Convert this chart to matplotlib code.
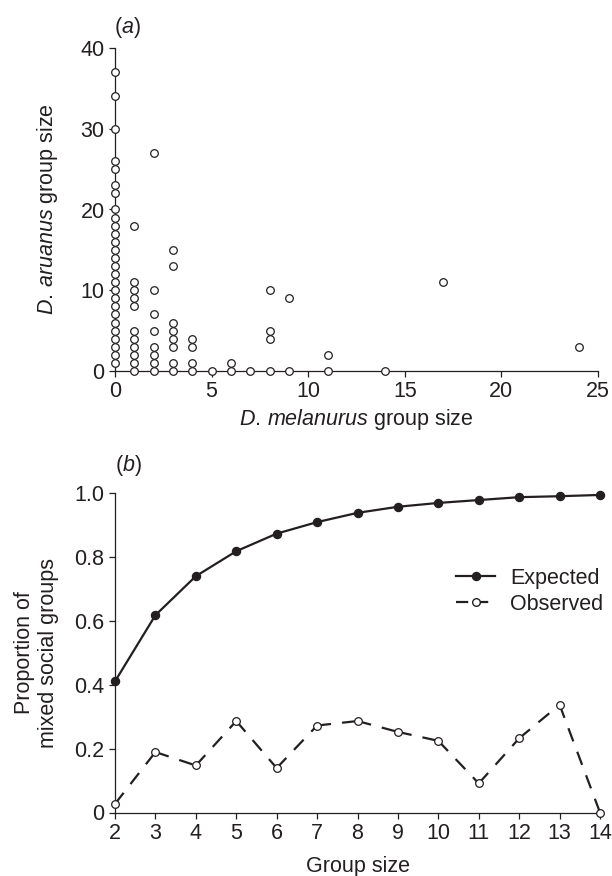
import numpy as np
import matplotlib.pyplot as plt
from matplotlib.lines import Line2D

plt.rcParams['font.family'] = ['Liberation Sans', 'DejaVu Sans']
plt.rcParams['mathtext.fontset'] = 'custom'
plt.rcParams['mathtext.rm'] = 'Liberation Sans'
plt.rcParams['mathtext.it'] = 'Liberation Sans:italic'

INK = '#231f20'
FS = 15.5
DASH = (0, (6.3, 5.0))

# (a) group composition: D. melanurus size -> list of D. aruanus sizes
mel_sizes = [0, 1, 2, 3, 4, 5, 6, 7, 8, 9, 11, 14, 17, 24]
aru_sizes = [
    list(range(1, 21)) + [22, 23, 25, 26, 30, 34, 37],
    [0, 1, 2, 3, 4, 5, 8, 9, 10, 11, 18],
    [0, 1, 2, 3, 5, 7, 10, 27],
    [0, 1, 3, 4, 5, 6, 13, 15],
    [0, 1, 3, 4],
    [0],
    [0, 1],
    [0],
    [0, 4, 5, 10],
    [0, 9],
    [0, 2],
    [0],
    [11],
    [3],
]

# (b) proportion of mixed social groups
group_size = [2, 3, 4, 5, 6, 7, 8, 9, 10, 11, 12, 13, 14]
expected = [0.41, 0.617, 0.739, 0.817, 0.872, 0.908, 0.937, 0.956, 0.968, 0.977, 0.986, 0.989, 0.993]
observed = [0.027, 0.189, 0.147, 0.286, 0.139, 0.272, 0.286, 0.252, 0.224, 0.091, 0.232, 0.337, 0.0]

xs = [m for m, a in zip(mel_sizes, aru_sizes) for _ in a]
ys = [v for a in aru_sizes for v in a]

fig = plt.figure(figsize=(6.12, 8.76), dpi=100)
ax1 = fig.add_axes([115 / 612, 1 - 371 / 876, (598 - 115) / 612, (371 - 48) / 876])
ax2 = fig.add_axes([115 / 612, 1 - 812.5 / 876, (600 - 115) / 612, (812.5 - 492.7) / 876])

for ax in (ax1, ax2):
    for s in ('top', 'right'):
        ax.spines[s].set_visible(False)
    for s in ('left', 'bottom'):
        ax.spines[s].set_color(INK)
        ax.spines[s].set_linewidth(0.9)
    ax.tick_params(direction='out', length=4, width=0.9, color=INK,
                   labelsize=FS, labelcolor=INK, pad=3.5)

# --- panel (a) ---
ax1.scatter(xs, ys, s=30, facecolors='white', edgecolors=INK, linewidths=0.9,
            clip_on=False, zorder=3)
ax1.set_xlim(0, 25)
ax1.set_ylim(0, 40)
ax1.set_xticks(np.arange(0, 26, 5))
ax1.set_yticks(np.arange(0, 41, 10))
ax1.set_xlabel(r'$\it{D.\,melanurus}$ group size', fontsize=FS, color=INK, labelpad=3)
ax1.set_ylabel(r'$\it{D.\,aruanus}$ group size', fontsize=FS, color=INK, labelpad=15)
fig.text(127 / 612, 1 - 27 / 876, r'($\it{a}$)', fontsize=FS, color=INK, ha='center', va='center')

# --- panel (b) ---
ax2.plot(group_size, expected, color=INK, lw=1.6, marker='o', ms=5.8,
         mfc=INK, mec=INK, clip_on=False, zorder=3)
# dashes restart at every point, so draw the observed line segment by segment
for i in range(len(group_size) - 1):
    ax2.plot(group_size[i:i + 2], observed[i:i + 2], color=INK, lw=1.6, ls=DASH,
             clip_on=False, zorder=2)
ax2.plot(group_size, observed, ls='none', marker='o', ms=5.5,
         mfc='white', mec=INK, mew=0.9, clip_on=False, zorder=3)
ax2.set_xlim(2, 14)
ax2.set_ylim(0, 1.0)
ax2.set_xticks(group_size)
ax2.set_yticks([0, 0.2, 0.4, 0.6, 0.8, 1.0])
ax2.set_yticklabels(['0', '0.2', '0.4', '0.6', '0.8', '1.0'])
ax2.set_xlabel('Group size', fontsize=FS, color=INK, labelpad=9)
ax2.set_ylabel('Proportion of\nmixed social groups', fontsize=FS, color=INK, labelpad=11)
fig.text(128 / 612, 1 - 465 / 876, r'($\it{b}$)', fontsize=FS, color=INK, ha='center', va='center')

handles = [
    Line2D([], [], color=INK, lw=1.6, marker='o', ms=5.8, mfc=INK, mec=INK),
    Line2D([], [], color=INK, lw=1.6, ls=(0, (5.5, 3.5)), marker='o', ms=5.5, mfc='white', mec=INK),
]
ax2.legend(handles, ['Expected', 'Observed'], loc='center left', bbox_to_anchor=(0.664, 0.692),
           frameon=False, fontsize=FS, handlelength=1.8, handletextpad=0.7,
           labelspacing=0.25, labelcolor=INK)

fig.savefig('out.png', dpi=100)
